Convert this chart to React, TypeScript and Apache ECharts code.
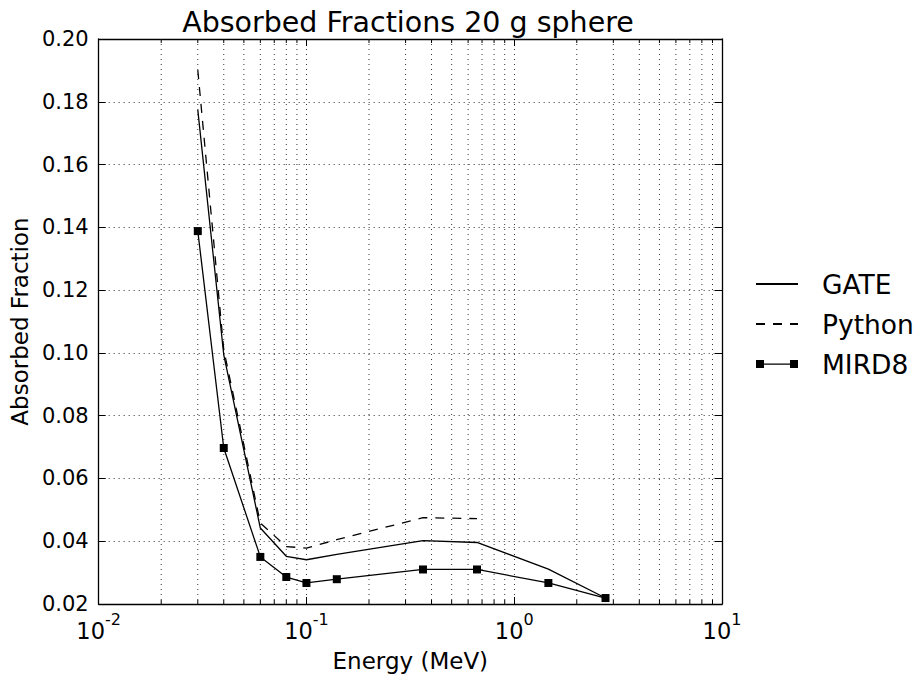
import React, { useEffect, useRef } from "react";
import * as echarts from "echarts";

const energies = [0.03, 0.04, 0.06, 0.08, 0.1, 0.14, 0.364, 0.662, 1.46, 2.75];
const gateValues = [0.1774, 0.0994, 0.0442, 0.0352, 0.0341, 0.0358, 0.0402, 0.0396, 0.0311, 0.0219];
const pythonEnergies = [0.03, 0.04, 0.06, 0.08, 0.1, 0.14, 0.364, 0.662];
const pythonValues = [0.1901, 0.101, 0.0458, 0.0383, 0.0378, 0.0405, 0.0475, 0.0472];
const mird8Values = [0.1388, 0.0697, 0.035, 0.0286, 0.0267, 0.0279, 0.031, 0.031, 0.0267, 0.0219];
const minorTicks = [0.02, 0.03, 0.04, 0.05, 0.06, 0.07, 0.08, 0.09, 0.2, 0.3, 0.4, 0.5, 0.6, 0.7, 0.8, 0.9, 2, 3, 4, 5, 6, 7, 8, 9];
const seriesNames = ["GATE", "Python", "MIRD8"];

const FONT = "DejaVu Sans";

export default function App() {
  const ref = useRef<HTMLDivElement>(null);
  useEffect(() => {
    if (!ref.current) return;
    const chart = echarts.init(ref.current, null, { renderer: "svg" });
    const gridLine = { show: true, lineStyle: { color: "#333", type: [1, 4] as any, width: 1 } };
    const option: any = {
      animation: false,
      backgroundColor: "#fff",
      title: {
        text: "Absorbed Fractions 20 g sphere",
        left: 403,
        top: 3,
        textAlign: "center",
        textStyle: { fontFamily: FONT, fontSize: 28.5, fontWeight: "normal", color: "#000" },
      },
      legend: {
        orient: "vertical",
        left: 750,
        top: 264,
        itemWidth: 42,
        itemHeight: 8,
        itemGap: 10,
        selectedMode: false,
        textStyle: { fontFamily: FONT, fontSize: 26.5, color: "#000", lineHeight: 30, padding: [0, 0, 0, 19] },
        data: [
          { name: seriesNames[0], itemStyle: { opacity: 0 } },
          { name: seriesNames[1], itemStyle: { opacity: 0 } },
          {
            name: seriesNames[2],
            icon: "path://M0,0h8v8h-8z M34,0h8v8h-8z M8,3.4h26v1.3h-26z",
            itemStyle: { color: "#000", opacity: 1 },
          },
        ],
      },
      grid: { left: 97, top: 39, right: 200, bottom: 73 },
      xAxis: [
        {
          type: "log",
          logBase: 10,
          min: 0.01,
          max: 10,
          position: "bottom",
          name: "Energy (MeV)",
          nameLocation: "middle",
          nameGap: 45,
          nameTextStyle: { fontFamily: FONT, fontSize: 23, color: "#000" },
          axisLine: { show: true, onZero: false, lineStyle: { color: "#000", width: 1.3 } },
          axisTick: { show: true, inside: true, length: 7, lineStyle: { color: "#000", width: 1 } },
          splitLine: gridLine,
          axisLabel: {
            margin: 7,
            formatter: (v: number) => `{b|10}{e|${Math.round(Math.log10(v))}}`,
            rich: {
              b: { fontFamily: FONT, fontSize: 22.5, color: "#000", lineHeight: 31, verticalAlign: "bottom" },
              e: { fontFamily: FONT, fontSize: 16, color: "#000", lineHeight: 16, verticalAlign: "top" },
            },
          },
        },
        {
          type: "log",
          logBase: 10,
          min: 0.01,
          max: 10,
          position: "top",
          axisLine: { show: true, onZero: false, lineStyle: { color: "#000", width: 1.3 } },
          axisTick: { show: true, inside: true, length: 7, lineStyle: { color: "#000", width: 1 } },
          axisLabel: { show: false },
          splitLine: { show: false },
        },
      ],
      yAxis: [
        {
          type: "value",
          min: 0.02,
          max: 0.2,
          interval: 0.02,
          position: "left",
          name: "Absorbed Fraction",
          nameLocation: "middle",
          nameGap: 64,
          nameTextStyle: { fontFamily: FONT, fontSize: 23, color: "#000" },
          axisLine: { show: true, onZero: false, lineStyle: { color: "#000", width: 1.3 } },
          axisTick: { show: true, inside: true, length: 7, lineStyle: { color: "#000", width: 1 } },
          splitLine: gridLine,
          axisLabel: {
            margin: 10,
            fontFamily: FONT,
            fontSize: 21,
            color: "#000",
            formatter: (v: number) => v.toFixed(2),
          },
        },
        {
          type: "value",
          min: 0.02,
          max: 0.2,
          interval: 0.02,
          position: "right",
          axisLine: { show: true, onZero: false, lineStyle: { color: "#000", width: 1.3 } },
          axisTick: { show: true, inside: true, length: 7, lineStyle: { color: "#000", width: 1 } },
          axisLabel: { show: false },
          splitLine: { show: false },
        },
      ],
      series: [
        {
          name: "minor",
          type: "custom",
          silent: true,
          z: 1,
          xAxisIndex: 0,
          yAxisIndex: 0,
          data: minorTicks.map((v) => [v, 0.1]),
          renderItem: (params: any, api: any) => {
            const cs = params.coordSys;
            const x = api.coord([api.value(0), 0.1])[0];
            const top = cs.y;
            const bottom = cs.y + cs.height;
            return {
              type: "group",
              children: [
                {
                  type: "line",
                  shape: { x1: x, y1: top, x2: x, y2: bottom },
                  style: { stroke: "#333", lineWidth: 1, lineDash: [1, 4] },
                },
                {
                  type: "line",
                  shape: { x1: x, y1: bottom, x2: x, y2: bottom - 4 },
                  style: { stroke: "#000", lineWidth: 1 },
                },
                {
                  type: "line",
                  shape: { x1: x, y1: top, x2: x, y2: top + 4 },
                  style: { stroke: "#000", lineWidth: 1 },
                },
              ],
            };
          },
        },
        {
          name: seriesNames[0],
          type: "line",
          z: 3,
          data: energies.map((e, i) => [e, gateValues[i]]),
          symbol: "none",
          lineStyle: { color: "#000", width: 1.3 },
          itemStyle: { color: "#000" },
        },
        {
          name: seriesNames[1],
          type: "line",
          z: 3,
          data: pythonEnergies.map((e, i) => [e, pythonValues[i]]),
          symbol: "none",
          lineStyle: { color: "#000", width: 1.3, type: [9, 8] },
          itemStyle: { color: "#000" },
        },
        {
          name: seriesNames[2],
          type: "line",
          z: 4,
          data: energies.map((e, i) => [e, mird8Values[i]]),
          symbol: "rect",
          symbolSize: 8,
          lineStyle: { color: "#000", width: 1.3 },
          itemStyle: { color: "#000" },
        },
      ],
    };
    chart.setOption(option);
    return () => chart.dispose();
  }, []);
  return (
    <div
      ref={ref}
      style={{ position: "absolute", left: 0, top: 0, width: 922, height: 677, background: "#fff" }}
    />
  );
}
